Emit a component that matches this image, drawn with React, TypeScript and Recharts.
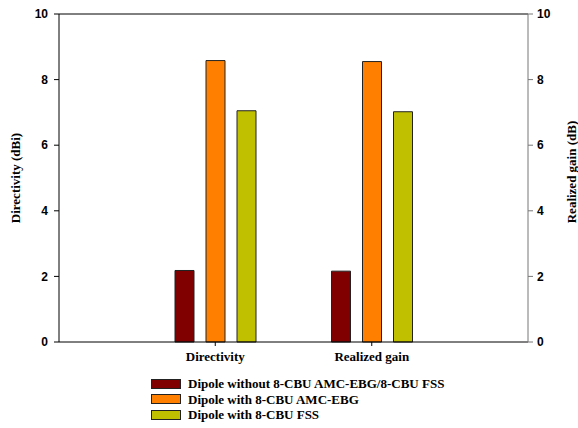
import React from 'react';
import { BarChart, Bar, XAxis, YAxis, Legend, ReferenceLine } from 'recharts';

const categories = ['Directivity', 'Realized gain'];
const withoutSeries = [2.18, 2.16];
const amcSeries = [8.58, 8.55];
const fssSeries = [7.05, 7.02];
const yTicks = [0, 2, 4, 6, 8, 10];
const seriesKeys = ['without', 'amc', 'fss'];
const seriesNames = [
  'Dipole without 8-CBU AMC-EBG/8-CBU FSS',
  'Dipole with 8-CBU AMC-EBG',
  'Dipole with 8-CBU FSS',
];
const seriesColors = ['#800000', '#FF8000', '#C0C000'];

const data = categories.map((c, i) => ({
  name: c,
  without: withoutSeries[i],
  amc: amcSeries[i],
  fss: fssSeries[i],
}));

const serif = '"Liberation Serif", "Times New Roman", serif';
const sans = '"Liberation Sans", Arial, sans-serif';

const LegendContent = () => {
  return (
    <div style={{ fontFamily: serif, fontWeight: 'bold', fontSize: 13, color: '#000' }}>
      {seriesNames.map((name, i) => (
        <div key={i} style={{ display: 'flex', alignItems: 'center', height: 15.5 }}>
          <span
            style={{
              display: 'inline-block',
              width: 28,
              height: 8,
              background: seriesColors[i],
              border: '1px solid #222',
              marginRight: 7,
            }}
          />
          <span style={{ lineHeight: '15px' }}>{name}</span>
        </div>
      ))}
    </div>
  );
};

const AxisTitle = (props: any) => {
  const { viewBox, value, side, dx, dy } = props;
  const vb = viewBox || {};
  const cx = side === 'left' ? vb.x + dx : vb.x + vb.width - dx;
  const cy = vb.y + vb.height / 2 + (dy || 0);
  return (
    <text
      x={cx}
      y={cy}
      transform={`rotate(-90, ${cx}, ${cy})`}
      textAnchor="middle"
      dominantBaseline="central"
      style={{ fontFamily: serif, fontWeight: 'bold', fontSize: 13, fill: '#000' }}
    >
      {value}
    </text>
  );
};

export default function App() {
  return (
    <div style={{ position: 'absolute', left: 0, top: 0, width: 578, height: 428, background: '#fff' }}>
      <BarChart
        width={578}
        height={428}
        data={data}
        margin={{ top: 14, right: 0, left: 0, bottom: 56 }}
        barSize={19}
        barGap={12}
      >
        <XAxis
          dataKey="name"
          padding={{ left: 78, right: 78 }}
          axisLine={{ stroke: '#000', strokeWidth: 1 }}
          tickLine={{ stroke: '#000' }}
          tickSize={4}
          tickMargin={6}
          height={30}
          tick={{ fontFamily: serif, fontWeight: 'bold', fontSize: 13, fill: '#000' }}
        />
        <YAxis
          yAxisId="left"
          orientation="left"
          width={59}
          domain={[0, 10]}
          ticks={yTicks}
          interval={0}
          axisLine={{ stroke: '#000' }}
          tickLine={{ stroke: '#000' }}
          tickSize={5}
          tickMargin={6}
          tick={{ fontFamily: sans, fontWeight: 'bold', fontSize: 12, fill: '#000' }}
          label={<AxisTitle value="Directivity (dBi)" side="left" dx={15} dy={0} />}
        />
        <YAxis
          yAxisId="right"
          orientation="right"
          width={50}
          domain={[0, 10]}
          ticks={yTicks}
          interval={0}
          axisLine={{ stroke: '#777' }}
          tickLine={{ stroke: '#777' }}
          tickSize={5}
          tickMargin={4}
          tick={{ fontFamily: sans, fontWeight: 'bold', fontSize: 12, fill: '#000' }}
          label={<AxisTitle value="Realized gain (dB)" side="right" dx={7} dy={-6} />}
        />
        <ReferenceLine yAxisId="left" y={10} stroke="#000" strokeWidth={1} />
        {seriesKeys.map((k, i) => (
          <Bar
            key={k}
            yAxisId={i === 2 ? 'right' : 'left'}
            dataKey={k}
            name={seriesNames[i]}
            fill={seriesColors[i]}
            stroke="#222"
            strokeWidth={1}
            isAnimationActive={false}
          />
        ))}
        <Legend
          layout="vertical"
          align="center"
          verticalAlign="middle"
          content={<LegendContent />}
          wrapperStyle={{ position: 'absolute', left: 151, top: 376, width: 380 }}
        />
      </BarChart>
    </div>
  );
}
